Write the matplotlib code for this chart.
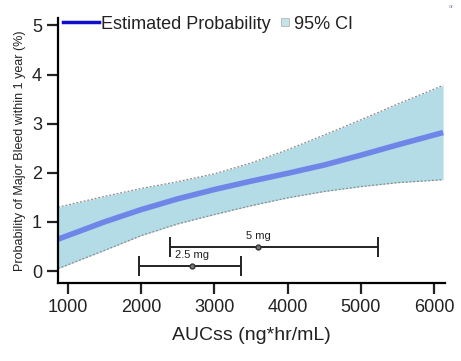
import matplotlib.pyplot as plt
import numpy as np
from matplotlib.lines import Line2D

plt.rcParams['font.family'] = ['Liberation Sans', 'DejaVu Sans']

# values
auc = [870, 1500, 2000, 2500, 3000, 3500, 4000, 4500, 5000, 5500, 6120]
prob = [0.65, 1.0, 1.25, 1.47, 1.66, 1.83, 1.99, 2.16, 2.36, 2.57, 2.82]
ci_upper = [1.3, 1.52, 1.68, 1.82, 1.98, 2.2, 2.47, 2.77, 3.08, 3.4, 3.78]
ci_lower = [0.05, 0.42, 0.72, 0.96, 1.15, 1.33, 1.49, 1.62, 1.72, 1.8, 1.86]

dose_labels = ["2.5 mg", "5 mg"]
dose_center = [2700, 3600]
dose_low = [1970, 2390]
dose_high = [3370, 5230]
dose_y = [0.1, 0.5]

fig = plt.figure(figsize=(4.61, 3.61), dpi=100)
ax = fig.add_axes([0.126, 0.215, 0.84, 0.735])

ax.fill_between(auc, ci_lower, ci_upper, color="#b3dce6", lw=0)
ax.plot(auc, ci_upper, ls=(0, (1.5, 1.5)), color="#8a8a8a", lw=0.9)
ax.plot(auc, ci_lower, ls=(0, (1.5, 1.5)), color="#8a8a8a", lw=0.9)
ax.plot(auc, prob, color="#6f86e8", lw=4, solid_capstyle="butt")

for lab, c, lo, hi, y in zip(dose_labels, dose_center, dose_low, dose_high, dose_y):
    xerr = [[c - lo], [hi - c]]
    ax.errorbar([c], [y], xerr=xerr, fmt="o", ms=3.5, mfc="#777777", mec="#333333",
                ecolor="#222222", elinewidth=1.4, capsize=7, capthick=1.4)
    ax.text(c, y + 0.12, lab, ha="center", va="bottom", fontsize=8, color="#222222")

ax.set_xlim(870, 6150)
ax.set_ylim(-0.25, 5.15)
ax.set_xticks([1000, 2000, 3000, 4000, 5000, 6000])
ax.set_yticks([0, 1, 2, 3, 4, 5])
ax.spines["top"].set_visible(False)
ax.spines["right"].set_visible(False)
ax.spines["left"].set_linewidth(1.6)
ax.spines["bottom"].set_linewidth(1.6)
ax.tick_params(direction="out", length=8, width=1.6, labelsize=13, colors="#222222")

ax.set_xlabel("AUCss (ng*hr/mL)", fontsize=14, color="#222222", labelpad=8)
ax.set_ylabel("Probability of Major Bleed within 1 year (%)", fontsize=9, color="#222222")

# two legends so the square handle can be narrow
leg1 = ax.legend([Line2D([0], [0], color="#1010cc", lw=2.5)], ["Estimated Probability"],
                 loc="upper left", bbox_to_anchor=(-0.03, 1.07), frameon=False, fontsize=13,
                 handlelength=2.0, handletextpad=0.1, labelcolor="#222222")
ax.add_artist(leg1)
sq = Line2D([0], [0], ls="none", marker="s", ms=6, mfc="#c5e3ea", mec="#aaaaaa", mew=0.5)
ax.legend([sq], ["95% CI"], loc="upper left", bbox_to_anchor=(0.53, 1.07), frameon=False,
          fontsize=13, handlelength=0.6, handletextpad=0.2, labelcolor="#222222")

fig.text(0.985, 0.99, "or", fontsize=4, color="#8888aa", ha="right", va="top")

fig.savefig("out.png", dpi=100)
